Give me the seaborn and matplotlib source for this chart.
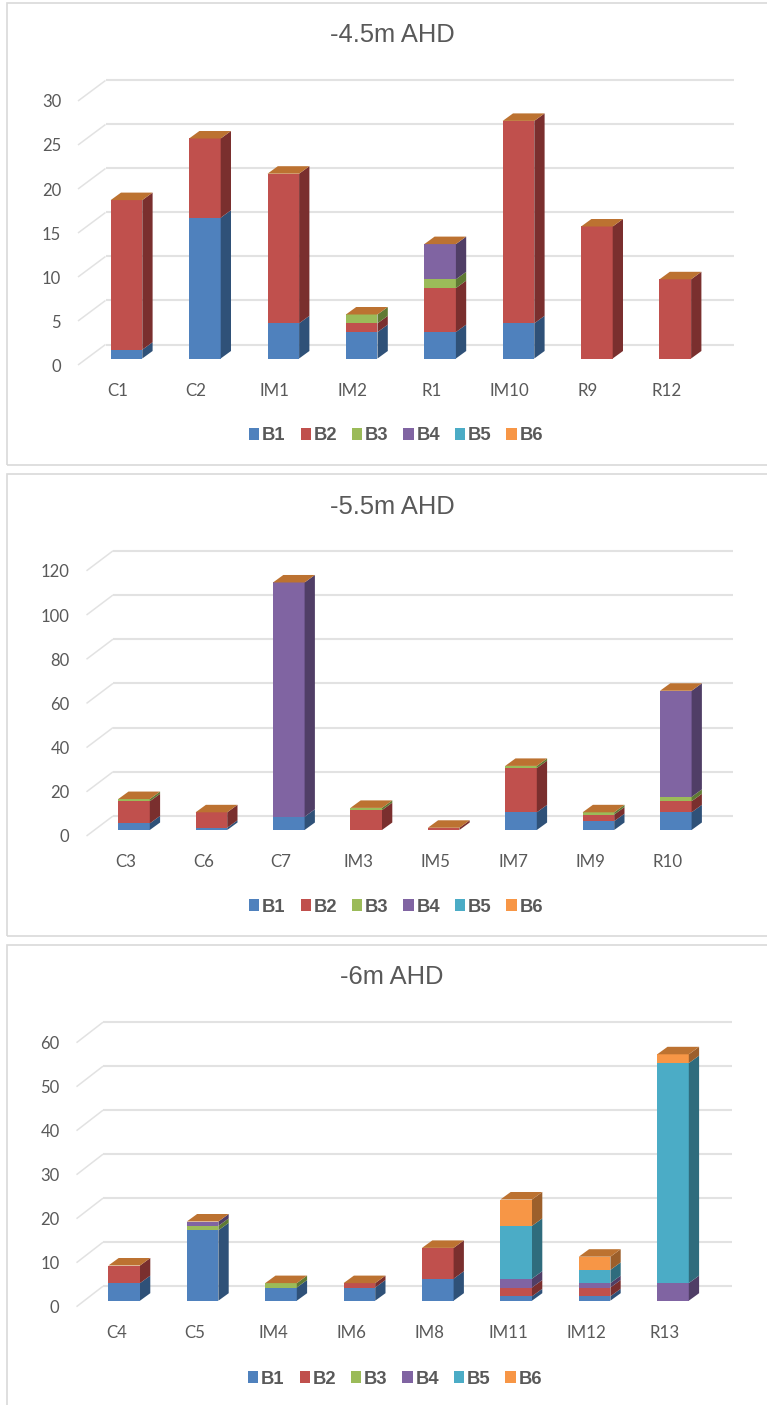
import numpy as np
import pandas as pd
import seaborn as sns
import matplotlib
matplotlib.use("Agg")
import matplotlib.pyplot as plt
from matplotlib.patches import Rectangle, Patch

# Counts per sample site and class, one block per depth
titles = ["-4.5m AHD", "-5.5m AHD", "-6m AHD"]
classes = ["B1", "B2", "B3", "B4", "B5", "B6"]

sites_a = ["C1", "C2", "IM1", "IM2", "R1", "IM10", "R9", "R12"]
a_b1 = [1, 16, 4, 3, 3, 4, 0, 0]
a_b2 = [17, 9, 17, 1, 5, 23, 15, 9]
a_b3 = [0, 0, 0, 1, 1, 0, 0, 0]
a_b4 = [0, 0, 0, 0, 4, 0, 0, 0]
a_b5 = [0, 0, 0, 0, 0, 0, 0, 0]
a_b6 = [0, 0, 0, 0, 0, 0, 0, 0]

sites_b = ["C3", "C6", "C7", "IM3", "IM5", "IM7", "IM9", "R10"]
b_b1 = [3, 1, 6, 0, 0, 8, 4, 8]
b_b2 = [10, 7, 0, 9, 1, 20, 3, 5]
b_b3 = [1, 0, 0, 1, 0, 1, 1, 2]
b_b4 = [0, 0, 106, 0, 0, 0, 0, 48]
b_b5 = [0, 0, 0, 0, 0, 0, 0, 0]
b_b6 = [0, 0, 0, 0, 0, 0, 0, 0]

sites_c = ["C4", "C5", "IM4", "IM6", "IM8", "IM11", "IM12", "R13"]
c_b1 = [4, 16, 3, 3, 5, 1, 1, 0]
c_b2 = [4, 0, 0, 1, 7, 2, 2, 0]
c_b3 = [0, 1, 1, 0, 0, 0, 0, 0]
c_b4 = [0, 1, 0, 0, 0, 2, 1, 4]
c_b5 = [0, 0, 0, 0, 0, 12, 3, 50]
c_b6 = [0, 0, 0, 0, 0, 6, 3, 2]

ticks_a = [0, 5, 10, 15, 20, 25, 30]
ticks_b = [0, 20, 40, 60, 80, 100, 120]
ticks_c = [0, 10, 20, 30, 40, 50, 60]

front_colors = ["#4F81BD", "#C0504D", "#9BBB59", "#8064A2", "#4BACC6", "#F79646"]
side_colors = ["#2F5178", "#7A2F2E", "#5F7A33", "#503E66", "#2F6C7D", "#9C5F2B"]
cap_color = "#BC7231"
grid_color = "#E2E2E2"
text_color = "#595959"
frame_color = "#D9D9D9"

W, H = 767, 1405
sns.set_theme(style="white")
plt.rcParams["font.family"] = ["Liberation Sans", "DejaVu Sans"]
fig = plt.figure(figsize=(W / 100, H / 100), dpi=100, facecolor="white")

# Panel layout in figure pixels
layouts = [
    dict(frame=(7, 3, 775, 465), x0=78, x1=734, y0=358.5, first=126.5, step=78.4, unit=8.8,
         wall_down=6.5, wall_up=14, wall_dx=27.5, title_x=392, title_y=35, legend_x=396, legend_y=436,
         shift=-8.8, tick_pad=12.2),
    dict(frame=(7, 474, 775, 936), x0=86.5, x1=733, y0=830, first=134, step=77.4, unit=2.21,
         wall_down=6, wall_up=14, wall_dx=26.5, title_x=392, title_y=507, legend_x=396, legend_y=907,
         shift=-8, tick_pad=12.2),
    dict(frame=(7, 945, 775, 1420), x0=76.5, x1=732, y0=1300.7, first=124.2, step=78.4, unit=4.4,
         wall_down=6, wall_up=14.5, wall_dx=26.5, title_x=392, title_y=977, legend_x=395, legend_y=1379,
         shift=-8, tick_pad=12.2),
]
blocks = [
    (sites_a, [a_b1, a_b2, a_b3, a_b4, a_b5, a_b6], ticks_a),
    (sites_b, [b_b1, b_b2, b_b3, b_b4, b_b5, b_b6], ticks_b),
    (sites_c, [c_b1, c_b2, c_b3, c_b4, c_b5, c_b6], ticks_c),
]
BAR_WIDTH_PX = 31.6
DEPTH_X_PX, DEPTH_Y_PX = 10.3, 7.5

for title, (sites, series, ticks), lay in zip(titles, blocks, layouts):
    fx0, fy0, fx1, fy1 = lay["frame"]
    fig.add_artist(Rectangle((fx0 / W, 1 - fy1 / H), (fx1 - fx0) / W, (fy1 - fy0) / H,
                             transform=fig.transFigure, facecolor="none", zorder=-1,
                             edgecolor=frame_color, linewidth=1.2))

    # The axes extend down to the front edge of the floor, below the column bases
    top_px = 60 + fy0
    bottom_px = lay["y0"] + lay["wall_down"]
    ax = fig.add_axes([lay["x0"] / W, 1 - bottom_px / H,
                       (lay["x1"] - lay["x0"]) / W, (bottom_px - top_px) / H])
    ax.patch.set_alpha(0)
    step, unit = lay["step"], lay["unit"]
    width = BAR_WIDTH_PX / step

    frame = pd.DataFrame(dict(zip(classes, series)), index=sites)
    n = len(sites)

    # Stacked front faces
    base = np.zeros(n)
    for name, colour in zip(classes, front_colors):
        vals = frame[name].to_numpy(dtype=float)
        sns.barplot(x=sites, y=vals, bottom=base, color=colour, width=width, saturation=1,
                    errorbar=None, linewidth=0, ax=ax, zorder=3, legend=False)
        base = base + vals

    up, down = lay["wall_up"] / unit, lay["wall_down"] / unit
    x_limits = ((lay["x0"] - lay["first"]) / step, (lay["x1"] - lay["first"]) / step)
    y_limits = (-down, (lay["y0"] - top_px) / unit)

    # Side and top faces of every column
    ddx, ddy = DEPTH_X_PX / step, DEPTH_Y_PX / unit
    base = np.zeros(n)
    for name, colour in zip(classes, side_colors):
        vals = frame[name].to_numpy(dtype=float)
        for i, (b, v) in enumerate(zip(base, vals)):
            if v > 0:
                xr = i + width / 2
                ax.fill([xr, xr + ddx, xr + ddx, xr], [b, b + ddy, b + v + ddy, b + v],
                        color=colour, linewidth=0, zorder=3, clip_on=False)
        base = base + vals
    for i, total in enumerate(base):
        xl, xr = i - width / 2, i + width / 2
        ax.fill([xl, xr, xr + ddx, xl + ddx], [total, total, total + ddy, total + ddy],
                color=cap_color, linewidth=0, zorder=3, clip_on=False)

    # Back wall gridlines and the diagonals running to the front of the floor
    xmin, xmax = x_limits
    back = xmin + lay["wall_dx"] / step
    for t in ticks:
        ax.plot([back, xmax], [t + up, t + up], color=grid_color, lw=1.5, zorder=1,
                clip_on=False, solid_capstyle="butt")
        ax.plot([xmin, back], [t - down, t + up], color=grid_color, lw=1.1, zorder=1,
                clip_on=False, solid_capstyle="butt")

    sns.despine(ax=ax, left=True, bottom=True)
    ax.grid(False)
    ax.set_xlabel("")
    ax.set_ylabel("")
    ax.set_yticks(np.array(ticks) - down, labels=[str(t) for t in ticks])
    ax.set_xticks(np.arange(n) + lay["shift"] / step, labels=sites)
    ax.set_xlim(*x_limits)
    ax.set_ylim(*y_limits)
    ax.tick_params(axis="y", length=0, pad=lay["tick_pad"], labelcolor=text_color, labelsize=12)
    ax.tick_params(axis="x", length=0, pad=13.3, labelcolor=text_color, labelsize=12.2)
    for lab in ax.get_xticklabels() + ax.get_yticklabels():
        lab.set_family(["Lato", "DejaVu Sans"])

    fig.text(lay["title_x"] / W, 1 - lay["title_y"] / H, title, ha="center", va="center",
             fontsize=18.4, color=text_color, family="Liberation Sans")

    handles = [Patch(facecolor=c, edgecolor="none", label=k) for k, c in zip(classes, front_colors)]
    fig.legend(handles=handles, loc="center", ncol=6, frameon=False,
               bbox_to_anchor=(lay["legend_x"] / W, 1 - lay["legend_y"] / H),
               prop=dict(family="Liberation Sans", weight="bold", size=13.2),
               labelcolor=text_color, handlelength=0.55, handleheight=0.55,
               handletextpad=0.15, columnspacing=0.82, borderpad=0, borderaxespad=0)

fig.savefig("out.png", dpi=100, facecolor="white")
